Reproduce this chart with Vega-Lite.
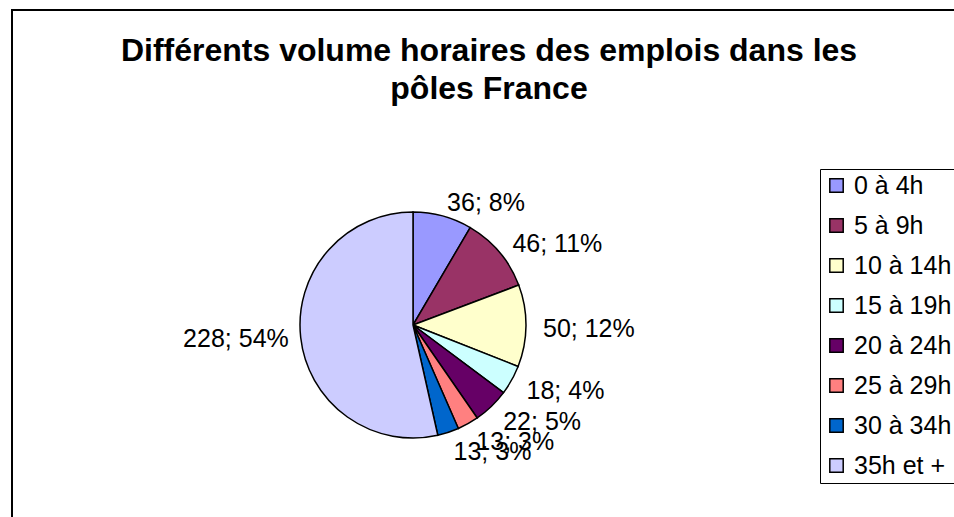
{
  "$schema": "https://vega.github.io/schema/vega-lite/v6.json",
  "width": 826,
  "height": 370,
  "autosize": {"type": "none"},
  "padding": {"left": 0, "top": 140, "right": 128, "bottom": 7},
  "background": "white",
  "config": {"view": {"stroke": null}, "font": "Liberation Sans"},
  "title": {
    "text": ["Différents volume horaires des emplois dans les", "pôles France"],
    "font": "Liberation Sans",
    "fontSize": 32,
    "fontWeight": "bold",
    "color": "black",
    "anchor": "middle",
    "dx": 76,
    "offset": -97,
    "lineHeight": 38
  },
  "data": {
    "values": [
      {"i": 1, "cat": "0 à 4h", "n": 36, "label": "36; 8%"},
      {"i": 2, "cat": "5 à 9h", "n": 46, "label": "46; 11%"},
      {"i": 3, "cat": "10 à 14h", "n": 50, "label": "50; 12%"},
      {"i": 4, "cat": "15 à 19h", "n": 18, "label": "18; 4%"},
      {"i": 5, "cat": "20 à 24h", "n": 22, "label": "22; 5%"},
      {"i": 6, "cat": "25 à 29h", "n": 13, "label": "13; 3%"},
      {"i": 7, "cat": "30 à 34h", "n": 13, "label": "13; 3%"},
      {"i": 8, "cat": "35h et +", "n": 228, "label": "228; 54%"}
    ]
  },
  "layer": [
    {
      "data": {"values": [{}]},
      "mark": {"type": "rect", "x": 12, "y": -130, "x2": 980, "y2": 400, "fill": null, "stroke": "black", "strokeWidth": 2},
      "encoding": {}
    },
    {
      "mark": {"type": "arc", "outerRadius": 113, "stroke": "black", "strokeWidth": 1.5},
      "encoding": {
        "theta": {"field": "n", "type": "quantitative", "stack": true},
        "order": {"field": "i", "type": "quantitative"},
        "color": {
          "field": "cat",
          "type": "nominal",
          "sort": null,
          "scale": {
            "domain": ["0 à 4h", "5 à 9h", "10 à 14h", "15 à 19h", "20 à 24h", "25 à 29h", "30 à 34h", "35h et +"],
            "range": ["#9999FF", "#993366", "#FFFFCC", "#CCFFFF", "#660066", "#FF8080", "#0066CC", "#CCCCFF"]
          },
          "legend": {
            "orient": "none",
            "legendX": 820,
            "legendY": 29,
            "title": null,
            "strokeColor": "black",
            "fillColor": "white",
            "padding": 4,
            "symbolType": "square",
            "symbolSize": 180,
            "symbolStrokeColor": "black",
            "symbolStrokeWidth": 1.5,
            "labelFont": "Liberation Sans",
            "labelFontSize": 25,
            "labelColor": "black",
            "labelOffset": 5,
            "rowPadding": 14,
            "labelLimit": 300
          }
        }
      }
    },
    {
      "mark": {"type": "text", "radius": 130, "align": "left", "baseline": "middle", "dy": 3, "font": "Liberation Sans", "fontSize": 25, "color": "black"},
      "encoding": {
        "theta": {"field": "n", "type": "quantitative", "stack": true},
        "order": {"field": "i", "type": "quantitative"},
        "text": {"field": "label", "type": "nominal", "condition": {"test": "datum.i == 8", "value": ""}}
      }
    },
    {
      "mark": {"type": "text", "radius": 125, "align": "right", "baseline": "middle", "font": "Liberation Sans", "fontSize": 25, "color": "black"},
      "encoding": {
        "theta": {"field": "n", "type": "quantitative", "stack": true},
        "order": {"field": "i", "type": "quantitative"},
        "text": {"field": "label", "type": "nominal", "condition": {"test": "datum.i != 8", "value": ""}}
      }
    }
  ]
}
